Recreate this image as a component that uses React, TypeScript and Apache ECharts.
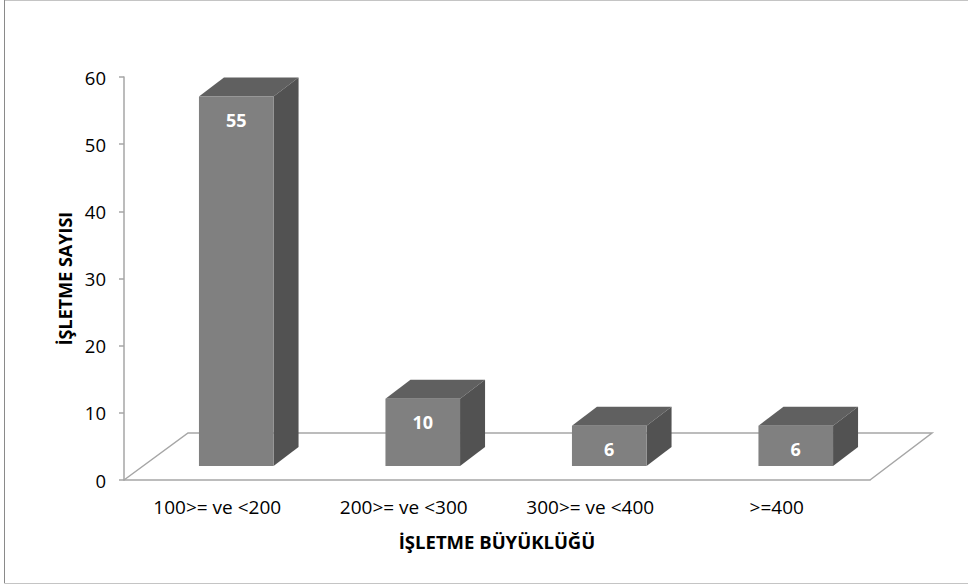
import React, { useEffect, useRef } from "react";
import * as echarts from "echarts";

const categories = ["100>= ve <200", "200>= ve <300", "300>= ve <400", ">=400"];
const values = [55, 10, 6, 6];
const yTicks = { min: 0, max: 60, interval: 10 };
const xName = "İŞLETME BÜYÜKLÜĞÜ";
const yName = "İŞLETME SAYISI";

const FONT = "'Open Sans', 'Liberation Sans', sans-serif";

export default function App() {
  const ref = useRef<HTMLDivElement>(null);
  useEffect(() => {
    if (!ref.current) return;
    const chart = echarts.init(ref.current, undefined, { renderer: "svg" });
    const frontDx = 19, frontDy = -14; // bar front offset into depth
    const depthDx = 25, depthDy = -19; // bar depth
    const floorDx = 64, floorDy = -47; // floor depth
    chart.setOption({
      animation: false,
      backgroundColor: "#ffffff",
      grid: { left: 124, right: 98, top: 77, bottom: 108, containLabel: false },
      graphic: [
        { type: "rect", shape: { x: 4.5, y: 0.5, width: 1000, height: 583 }, style: { fill: "none", stroke: "#c4c4c4", lineWidth: 1 }, silent: true },
        { type: "line", shape: { x1: 4.5, y1: 0, x2: 4.5, y2: 583 }, style: { stroke: "#8a8a8a", lineWidth: 1 }, silent: true },
      ],
      xAxis: {
        type: "category",
        data: categories,
        boundaryGap: true,
        name: xName,
        nameLocation: "middle",
        nameGap: 52,
        nameTextStyle: { fontFamily: FONT, fontSize: 18.5, fontWeight: "bold", color: "#000" },
        axisLine: { show: true, lineStyle: { color: "#a6a6a6", width: 1.5 } },
        axisTick: { show: false },
        axisLabel: { fontFamily: FONT, fontSize: 19, color: "#000", margin: 17 },
      },
      yAxis: {
        type: "value",
        min: yTicks.min,
        max: yTicks.max,
        interval: yTicks.interval,
        name: yName,
        nameLocation: "middle",
        nameGap: 50,
        nameRotate: 90,
        nameTextStyle: { fontFamily: FONT, fontSize: 18, fontWeight: "bold", color: "#000" },
        axisLine: { show: true, lineStyle: { color: "#a6a6a6", width: 1.5 } },
        axisTick: { show: true, inside: false, length: 5, lineStyle: { color: "#a6a6a6", width: 1.5 } },
        splitLine: { show: false },
        axisLabel: { fontFamily: FONT, fontSize: 18.5, color: "#000", margin: 18 },
      },
      series: [
        {
          type: "custom",
          z: 1,
          data: [[0, 0]],
          encode: { x: 0, y: 1 },
          renderItem: (params: any, api: any) => {
            const first = api.coord([0, 0]);
            const band = api.size([1, 0])[0];
            const left = first[0] - band / 2;
            const right = left + band * categories.length;
            const y = first[1];
            return {
              type: "polyline",
              shape: {
                points: [
                  [left, y],
                  [left + floorDx, y + floorDy],
                  [right + floorDx - 2, y + floorDy],
                  [right, y],
                ],
              },
              style: { stroke: "#a6a6a6", lineWidth: 1.5, fill: "none" },
            };
          },
        },
        {
          type: "custom",
          z: 2,
          data: values.map((v, i) => [i, v]),
          encode: { x: 0, y: 1 },
          renderItem: (params: any, api: any) => {
            const cat = api.value(0);
            const val = api.value(1);
            const base = api.coord([cat, 0]);
            const top = api.coord([cat, val]);
            const band = api.size([1, 0])[0];
            const w = band * 0.4;
            const x0 = base[0] - w / 2 + frontDx;
            const x1 = x0 + w;
            const yb = base[1] + frontDy;
            const yt = top[1] + frontDy;
            return {
              type: "group",
              children: [
                {
                  type: "polygon",
                  shape: { points: [[x0, yt], [x1, yt], [x1 + depthDx, yt + depthDy], [x0 + depthDx, yt + depthDy]] },
                  style: { fill: "#606060" },
                },
                {
                  type: "polygon",
                  shape: { points: [[x1, yt], [x1 + depthDx, yt + depthDy], [x1 + depthDx, yb + depthDy], [x1, yb]] },
                  style: { fill: "#525252" },
                },
                {
                  type: "rect",
                  shape: { x: x0, y: yt, width: w, height: yb - yt },
                  style: { fill: "#808080" },
                },
                {
                  type: "text",
                  style: {
                    text: String(val),
                    x: x0 + w / 2,
                    y: yt + 23,
                    align: "center",
                    verticalAlign: "middle",
                    fill: "#ffffff",
                    fontFamily: FONT,
                    fontSize: 18,
                    fontWeight: "bold",
                  },
                },
              ],
            };
          },
        },
      ],
    });
    return () => chart.dispose();
  }, []);
  return <div ref={ref} style={{ position: "fixed", left: 0, top: 0, width: 968, height: 588 }} />;
}
